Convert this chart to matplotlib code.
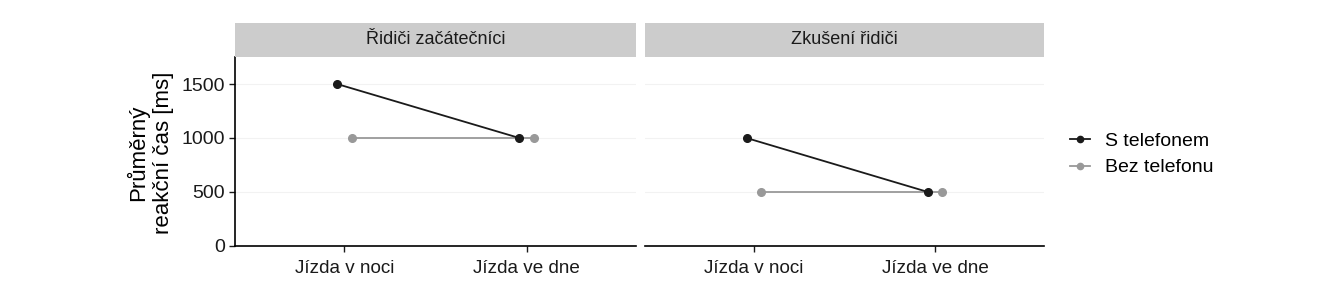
import numpy as np
import matplotlib
matplotlib.use('Agg')
import matplotlib.pyplot as plt
from matplotlib.lines import Line2D

plt.rcParams['font.family'] = ['Liberation Sans', 'DejaVu Sans']

# data
panels = ["Řidiči začátečníci", "Zkušení řidiči"]
situations = ["Jízda v noci", "Jízda ve dne"]
groups = ["S telefonem", "Bez telefonu"]
s_telefonem = [[1500, 1000], [1000, 500]]
bez_telefonu = [[1000, 1000], [500, 500]]
colors = ["#1a1a1a", "#999999"]
dodge = [-0.04, 0.04]

W, H = 1326, 295
fig = plt.figure(figsize=(W / 100, H / 100), dpi=100)

def fx(px):
    return px / W

def fy(py):
    return 1 - py / H

panel_x = [(235, 636), (645, 1044)]
top, bottom, strip_top = 57, 246, 23

x = np.arange(len(situations))
for k, (x0, x1) in enumerate(panel_x):
    ax = fig.add_axes([fx(x0), fy(bottom), fx(x1 - x0), fy(top) - fy(bottom)])
    for g, vals in enumerate([s_telefonem[k], bez_telefonu[k]]):
        ax.plot(x + dodge[g], vals, '-o', color=colors[g], lw=1.3, ms=5.5,
                zorder=3 - g)
    ax.set_xlim(-0.6, 1.6)
    ax.set_ylim(0, 1750)
    ax.set_yticks([0, 500, 1000, 1500])
    ax.set_xticks(x)
    ax.set_xticklabels(situations)
    for yv in [500, 1000, 1500]:
        ax.axhline(yv, color='#f2f2f2', lw=0.8, zorder=0)
    for s in ['top', 'right']:
        ax.spines[s].set_visible(False)
    ax.spines['bottom'].set_linewidth(1.2)
    ax.spines['left'].set_linewidth(1.2)
    ax.tick_params(axis='both', length=4, width=1.0, labelsize=14, pad=3,
                   colors='#1a1a1a')
    ax.tick_params(axis='x', labelsize=13.6, pad=6)
    if k > 0:
        ax.spines['left'].set_visible(False)
        ax.tick_params(axis='y', left=False, labelleft=False)
    # strip
    sax = fig.add_axes([fx(x0), fy(top), fx(x1 - x0), fy(strip_top) - fy(top)])
    sax.set_facecolor('#cccccc')
    sax.set_xticks([])
    sax.set_yticks([])
    for s in sax.spines.values():
        s.set_visible(False)
    sax.text(0.5, 0.5, panels[k], ha='center', va='center', fontsize=13,
             color='#1a1a1a', transform=sax.transAxes)

fig.text(fx(150), fy(153), "Průměrný\nreakční čas [ms]", rotation=90,
         ha='center', va='center', fontsize=16, linespacing=1.2)

handles = [Line2D([], [], color=colors[g], marker='o', lw=1.3, ms=4.5)
           for g in range(2)]
fig.legend(handles, groups, loc='center left',
           bbox_to_anchor=(fx(1052), fy(154.5)), frameon=False, fontsize=14,
           handlelength=1.05, handletextpad=0.8, labelspacing=0.45)

fig.savefig('out.png', dpi=100)
